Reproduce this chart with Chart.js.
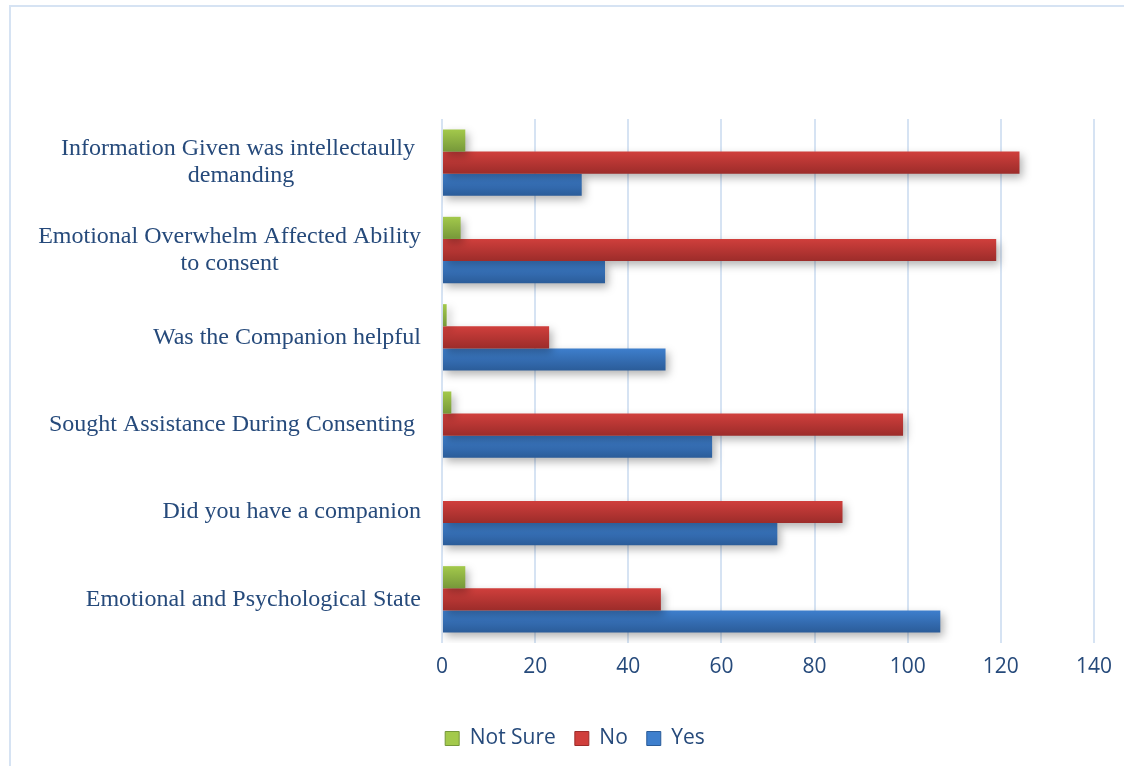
<!DOCTYPE html>
<html>
<head>
<meta charset="utf-8">
<script src="https://cdn.jsdelivr.net/npm/chart.js@4.4.1/dist/chart.umd.min.js"></script>
<style>
  html, body { margin: 0; padding: 0; background: #fff; overflow: hidden; }
  #frame {
    position: absolute; left: 9px; top: 5px; width: 1200px; height: 800px;
    border-left: 2px solid #d6e3f3; border-top: 2px solid #d6e3f3;
  }
  #wrap { position: absolute; left: 0; top: 0; width: 1124px; height: 766px; }
</style>
</head>
<body>
<div id="frame"></div>
<div id="wrap"><canvas id="surveyChart" width="1124" height="766"></canvas></div>
<script>
const categories = [
  ['Information Given was intellectaully ', 'demanding'],
  ['Emotional Overwhelm Affected Ability', 'to consent'],
  ['Was the Companion helpful'],
  ['Sought Assistance During Consenting '],
  ['Did you have a companion'],
  ['Emotional and Psychological State'],
];

const notSureValues = [5, 4, 1, 2, 0, 5];
const noValues = [124, 119, 23, 99, 86, 47];
const yesValues = [30, 35, 48, 58, 72, 107];

const xTicks = [0, 20, 40, 60, 80, 100, 120, 140];

const TEXT_COLOR = '#264a7b';
const GRID_COLOR = '#d6e3f3';
const CAT_PCT = 0.76;

const GREEN = ['#a3c94b', '#76983a'];
const RED = ['#d03f3c', '#9c2c2a'];
const BLUE = ['#3e7fcd', '#2b5c99'];

// vertical gradient per bar, worked out from the category scale
const barGradient = ([top, bottom]) => ctx => {
  const chart = ctx.chart;
  const yScale = chart.scales.y;
  if (!chart.chartArea || !yScale || ctx.dataIndex === undefined) {
    return top;
  }
  const slot = (yScale.bottom - yScale.top) / categories.length;
  const group = slot * CAT_PCT;
  const thick = group / 3;
  const y0 = yScale.getPixelForValue(ctx.dataIndex) - group / 2 + ctx.datasetIndex * thick;
  const g = chart.ctx.createLinearGradient(0, y0, 0, y0 + thick);
  g.addColorStop(0, top);
  g.addColorStop(1, bottom);
  return g;
};

const shadowPlugin = {
  id: 'barShadow',
  beforeDatasetsDraw(chart) {
    const c = chart.ctx;
    c.save();
    c.shadowColor = 'rgba(0,0,0,0.3)';
    c.shadowBlur = 8;
    c.shadowOffsetX = 3;
    c.shadowOffsetY = 4;
  },
  afterDatasetsDraw(chart) {
    chart.ctx.restore();
  },
};

// category labels: block right-aligned, lines centred inside the block
const categoryLabels = {
  id: 'categoryLabels',
  afterDraw(chart) {
    const c = chart.ctx;
    const yScale = chart.scales.y;
    const lineH = 27;
    c.save();
    c.font = '24px "Liberation Serif", "Times New Roman", serif';
    c.fillStyle = TEXT_COLOR;
    c.textAlign = 'center';
    c.textBaseline = 'middle';
    categories.forEach((lines, i) => {
      const w = Math.max(...lines.map(l => c.measureText(l).width));
      const cx = 421 - w / 2;
      const cy = yScale.getPixelForValue(i) - ((lines.length - 1) * lineH) / 2;
      lines.forEach((l, k) => c.fillText(l, cx, cy + k * lineH));
    });
    c.restore();
  },
};

const legendColors = [GREEN, RED, BLUE];

const ctx = document.getElementById('surveyChart').getContext('2d');

new Chart(ctx, {
  type: 'bar',
  data: {
    labels: categories,
    datasets: [
      { label: 'Not Sure', data: notSureValues, backgroundColor: barGradient(GREEN) },
      { label: 'No', data: noValues, backgroundColor: barGradient(RED) },
      { label: 'Yes', data: yesValues, backgroundColor: barGradient(BLUE) },
    ],
  },
  options: {
    indexAxis: 'y',
    responsive: false,
    animation: false,
    barPercentage: 1,
    categoryPercentage: CAT_PCT,
    layout: { padding: { top: 119, right: 30, bottom: 7, left: 56 } },
    scales: {
      x: {
        min: 0,
        max: 140,
        afterBuildTicks: scale => {
          scale.ticks = xTicks.map(v => ({ value: v }));
        },
        afterFit: scale => {
          scale.height = 66;
        },
        grid: { color: GRID_COLOR, lineWidth: 2, drawTicks: false },
        border: { display: false },
        ticks: {
          padding: 11,
          color: TEXT_COLOR,
          font: { family: '"Open Sans", sans-serif', size: 21 },
        },
      },
      y: {
        afterFit: scale => {
          scale.width = 386;
        },
        grid: { display: false },
        border: { display: false },
        ticks: { display: false },
      },
    },
    plugins: {
      legend: {
        position: 'bottom',
        labels: {
          boxWidth: 14,
          boxHeight: 14,
          padding: 19,
          color: TEXT_COLOR,
          font: { family: '"Open Sans", sans-serif', size: 21 },
          generateLabels: chart => {
            const items = Chart.defaults.plugins.legend.labels.generateLabels(chart);
            items.forEach((item, i) => {
              item.fillStyle = legendColors[i][0];
              item.strokeStyle = legendColors[i][1];
              item.lineWidth = 1;
            });
            return items;
          },
        },
      },
      tooltip: { enabled: false },
    },
  },
  plugins: [shadowPlugin, categoryLabels],
});
</script>
</body>
</html>
